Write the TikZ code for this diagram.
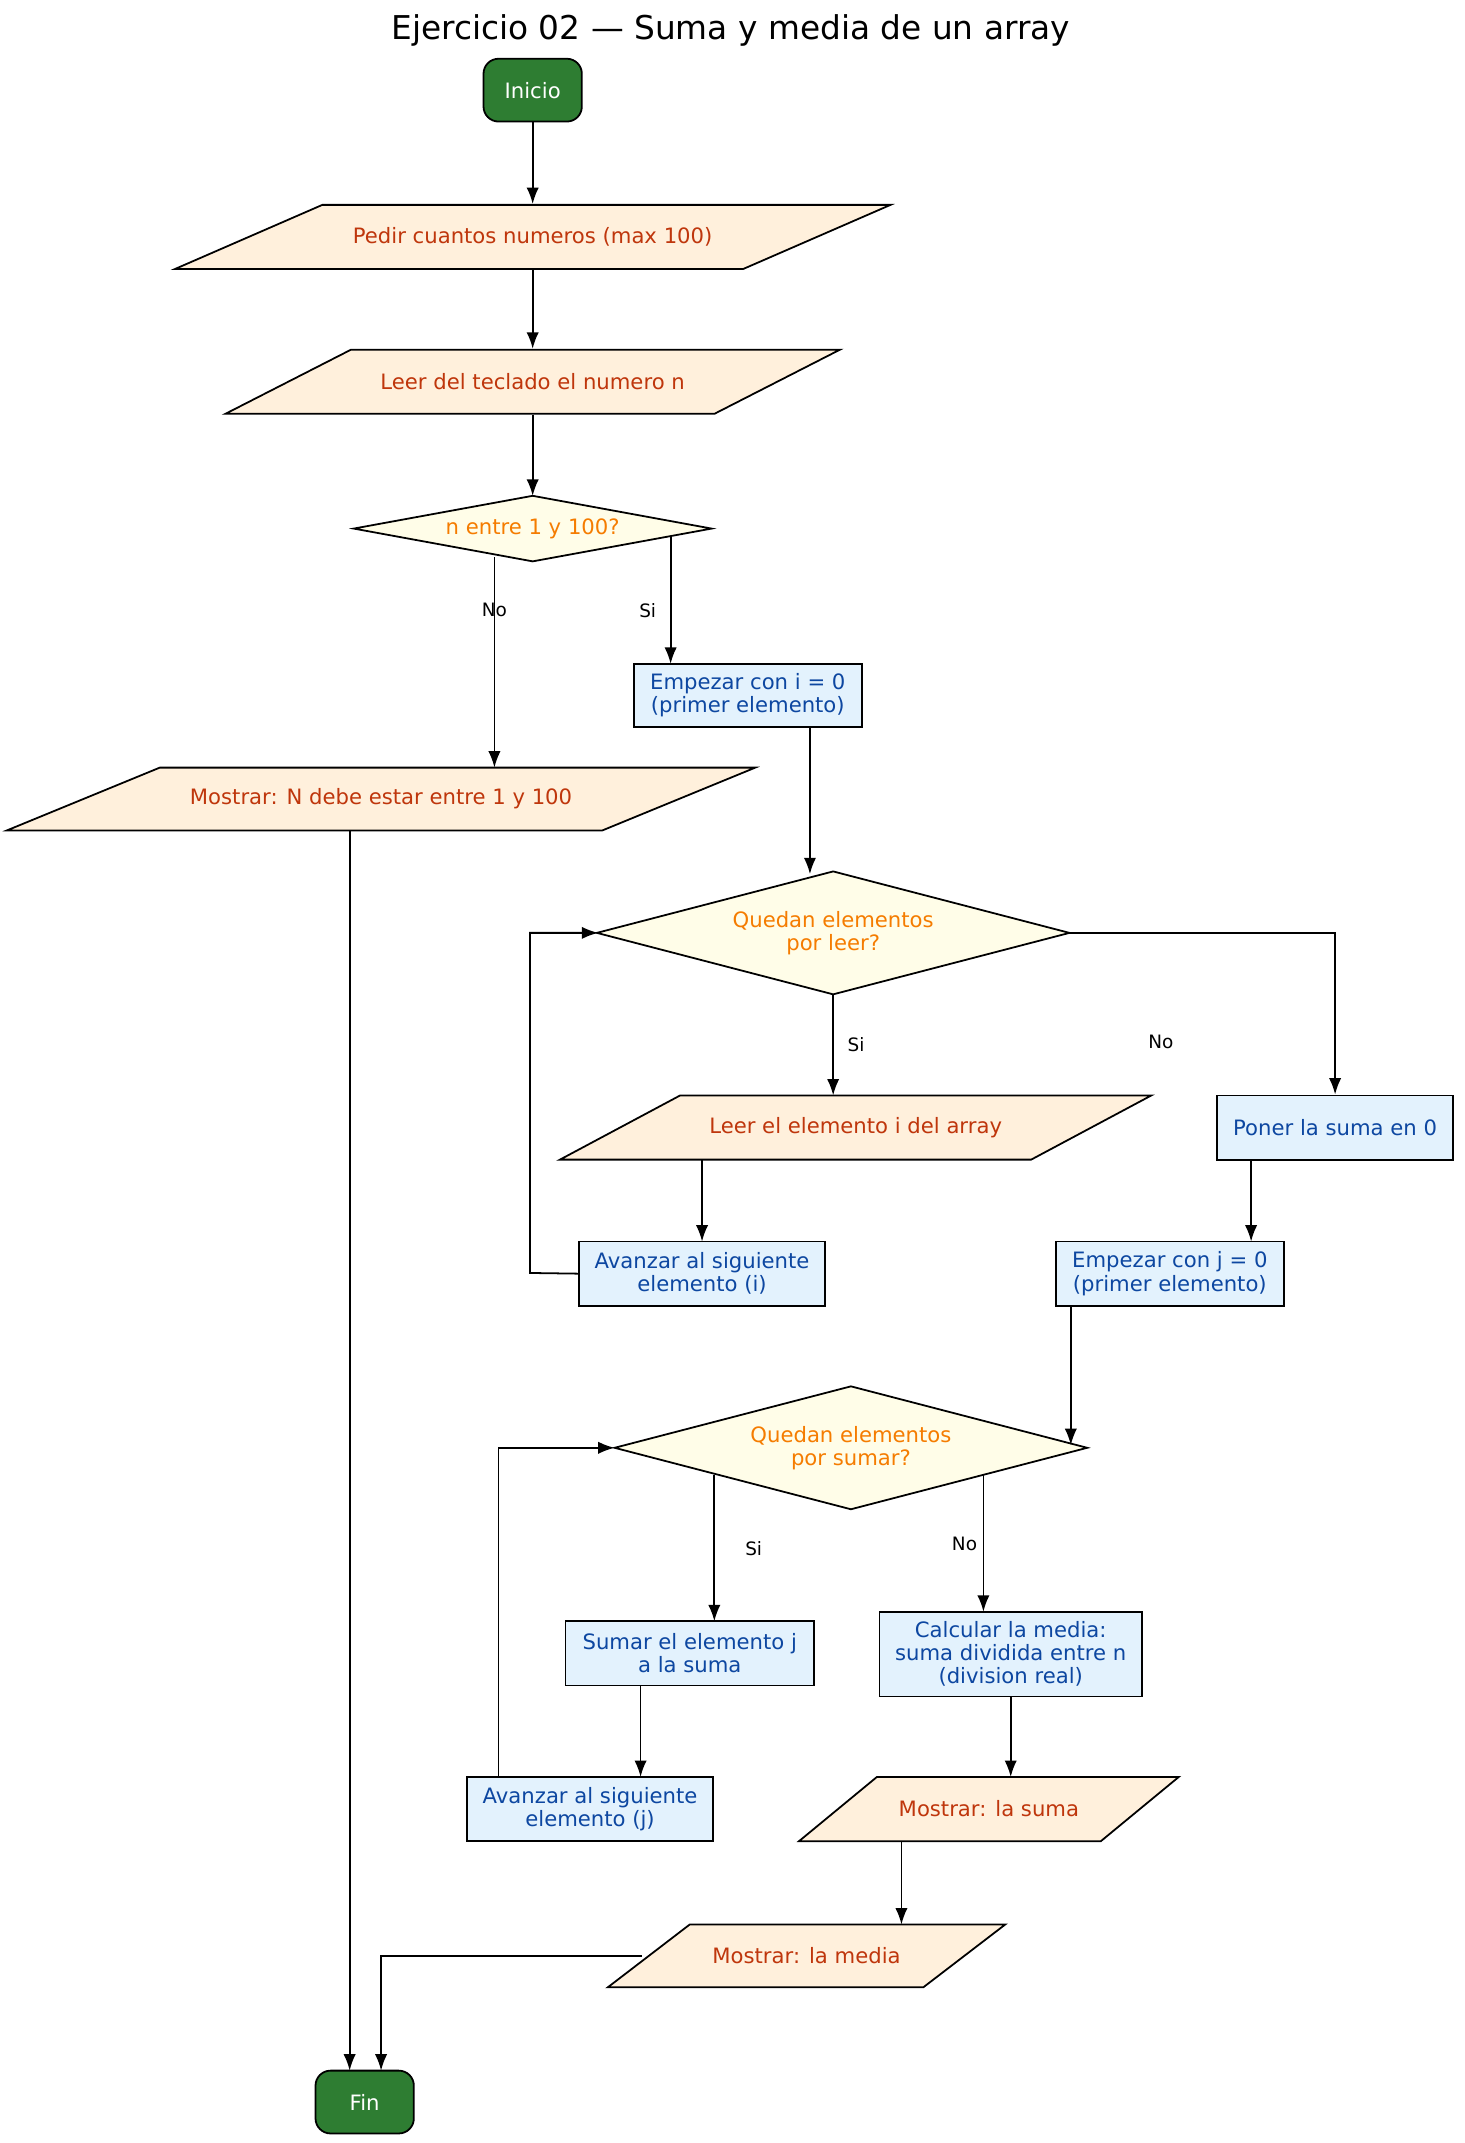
\documentclass[tikz,border=0pt]{standalone}
\usepackage{fontspec}
\setmainfont{DejaVu Sans}
\usetikzlibrary{arrows.meta}
\definecolor{gr}{HTML}{2E7D32}
\definecolor{pf}{HTML}{FFF0DC}
\definecolor{pt}{HTML}{BF360C}
\definecolor{df}{HTML}{FFFDE8}
\definecolor{dt}{HTML}{F57C00}
\definecolor{bf}{HTML}{E3F2FD}
\definecolor{bt}{HTML}{0D47A1}
\tikzset{
 every node/.style={font=\fontsize{15.5}{17}\selectfont, align=center, inner sep=0pt},
 every path/.style={line width=1.3pt},
 term/.style={draw, fill=gr, text=white, rounded corners=11pt, minimum width=72pt, minimum height=46pt},
 proc/.style={draw, fill=bf, text=bt},
 arr/.style={-{Latex[length=12pt,width=9pt]}},
 lbl/.style={font=\fontsize{13.5}{15}\selectfont}
}
\newcommand{\para}[7]{% name, x1, x2, y1, y2, slant, text
 \fill[pf,draw=black] (#2,#5) -- (#3-#6,#5) -- (#3,#4) -- (#2+#6,#4) -- cycle;
 \node[text=pt, minimum width=#3-#2-#6, minimum height=#5-#4] (#1) at ({(#2+#3)/2},{(#4+#5)/2}) {#7};}
\newcommand{\pbox}[6]{% name x1 x2 y1 y2 text
 \node[proc, minimum width=#3-#2, minimum height=#5-#4] (#1) at ({(#2+#3)/2},{(#4+#5)/2}) {#6};}
\newcommand{\dia}[6]{% name cx cy hw hh text
 \fill[df,draw=black] (#2-#4,#3) -- (#2,#3-#5) -- (#2+#4,#3) -- (#2,#3+#5) -- cycle;
 \node[text=dt, minimum width=2*#4, minimum height=2*#5] (#1) at (#2,#3) {#6};}
\begin{document}
\begin{tikzpicture}[x=1pt,y=-1pt]
\useasboundingbox (0,0) rectangle (1072,1569);
\node[font=\fontsize{24}{26}\selectfont] (title) at (535,22) {Ejercicio 02 — Suma y media de un array};
\node[term] (inicio) at (390,66) {Inicio};
\para{pedir}{128}{652}{150}{197}{108}{Pedir cuantos numeros (max 100)}
\para{leern}{165}{615}{256}{303}{92}{Leer del teclado el numero n}
\dia{d1}{390}{387}{131}{24}{n entre 1 y 100?}
\para{mostn}{5}{553}{562}{608}{112}{Mostrar: N debe estar entre 1 y 100}
\pbox{empi}{464}{631}{486}{532}{Empezar con i = 0\\(primer elemento)}
\dia{d2}{610}{683}{173}{45}{Quedan elementos\\por leer?}
\para{leeri}{410}{843}{802}{849}{88}{Leer el elemento i del array}
\pbox{poner}{891}{1064}{802}{849}{Poner la suma en 0}
\pbox{avi}{424}{604}{909}{956}{Avanzar al siguiente\\elemento (i)}
\pbox{empj}{773}{940}{909}{956}{Empezar con j = 0\\(primer elemento)}
\dia{d3}{623}{1060}{173}{45}{Quedan elementos\\por sumar?}
\pbox{sumj}{414}{596}{1187}{1234}{Sumar el elemento j\\a la suma}
\pbox{calc}{644}{836}{1180}{1242}{Calcular la media:\\suma dividida entre n\\(division real)}
\pbox{avj}{342}{522}{1301}{1348}{Avanzar al siguiente\\elemento (j)}
\para{msuma}{585}{863}{1301}{1348}{57}{Mostrar: la suma}
\para{mmedia}{445}{736}{1409}{1455}{60}{Mostrar: la media}
\node[term] (fin) at (267,1539) {Fin};

\draw[arr] (inicio) -- (pedir);
\draw[arr] (pedir) -- (leern);
\draw[arr] (leern) -- (390,363);
\draw[arr] (362,408) -- (362,562) node[lbl, pos=0.25] {No};
\draw[arr] (491,393) -- (491,486) node[lbl, pos=0.58, left=10pt] {Si};
\draw[arr] (593,532) -- (593,640);
\draw[arr] (610,728) -- (610,802) node[lbl, midway, right=10pt] {Si};
\draw[arr] (783,683) -| (poner.north);
\node[lbl] (nolbl) at (850,763) {No};
\draw[arr] (514,849) -- (514,909);
\draw[arr] (avi.west) -- (388,932) -- (388,683) -- (438,683);
\draw[arr] (916,849) -- (916,909);
\draw[arr] (784,956) -- (784,1058);
\draw[arr] (523,1080) -- (523,1187) node[lbl, midway, right=22pt] {Si};
\draw[arr] (720,1080) -- (720,1180) node[lbl, midway, left=4pt] {No};
\draw[arr] (469,1234) -- (469,1301);
\draw[arr] (365,1301) -- (365,1060) -- (450,1060);
\draw[arr] (calc.south) -- (740,1301);
\draw[arr] (660,1348) -- (660,1409);
\draw[arr] (470,1432) -- (279,1432) -- (279,1516);
\draw[arr] (256,608) -- (256,1516);
\end{tikzpicture}
\end{document}
